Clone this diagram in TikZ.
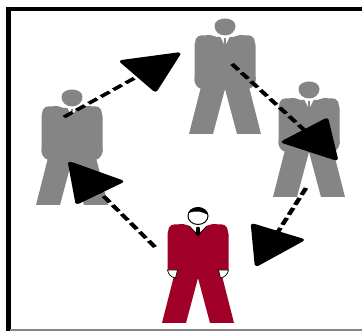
\documentclass[tikz,border=0pt]{standalone}
\usepackage{tikz}
\usetikzlibrary{arrows.meta}
\definecolor{szurke}{RGB}{133,133,133}
\definecolor{bordo}{RGB}{160,0,40}
\tikzset{
  keret/.style={line width=4.4pt},
  nyil/.style={line width=3.2pt,dash pattern=on 7.5pt off 3.4pt,-{Triangle[length=40pt,width=41pt,round]}},
  % legs and jacket of one figure, the head is at the origin
  pics/alak/.style={code={
    \fill[#1] (-22,52) -- (-36,107) -- (-12,107) -- (0,62) -- (12,107) -- (36,107) -- (22,52) -- cycle;
    \fill[#1] (-8.5,10) to[out=170,in=0] (-15,8) to[out=190,in=60] (-29,11.5) to[out=-110,in=90] (-30.5,18)
      -- (-30.5,54) -- (30.5,54) -- (30.5,18) to[out=90,in=-70] (29,11.5) to[out=120,in=-10] (15,8) to[out=180,in=10] (8.5,10) -- cycle;
  }},
  pics/szurkeember/.style={code={
    \pic {alak=szurke};
    \fill[szurke] (-30.5,50) -- (-30.5,54) to[out=-80,in=170] (-23,62) -- (-20,50) -- cycle;
    \fill[szurke] (30.5,50) -- (30.5,54) to[out=-100,in=10] (23,62) -- (20,50) -- cycle;
    \fill[szurke] (0,-2) to[out=180,in=90] (-10.5,-1) to[out=-90,in=180] (0,8.5) to[out=0,in=-90] (10.5,-1) to[out=90,in=0] (0,-8.5) to[out=180,in=90] (-10.5,-1);
    \fill[white] (-5,9) -- (-1,17) -- (-1.2,11) -- (1.2,11) -- (1,17) -- (5,9) -- cycle;
  }},
  pics/voroslember/.style={code={
    \pic {alak=bordo};
    \fill[white] (-9,9) -- (0,19) -- (9,9) -- cycle;
    \draw[black,line width=.7pt] (-9,10) -- (0,19) -- (9,10);
    \draw[black,fill=white,line width=.7pt] (-30.5,54) to[out=-80,in=170] (-22.5,62) -- (-20.5,54) -- cycle;
    \draw[black,fill=white,line width=.7pt] (30.5,54) to[out=-100,in=10] (22.5,62) -- (20.5,54) -- cycle;
    \fill[black] (-1.6,11) -- (1.6,11) -- (2.4,18) -- (0,20.5) -- (-2.4,18) -- cycle;
    \draw[black,fill=white,line width=1pt] (0,0) ellipse[x radius=10,y radius=8.5];
    \fill[black] (-9.5,-3) to[out=70,in=180] (0,-8.5) to[out=0,in=110] (10,-1) to[out=160,in=0] (1,-4.5) to[out=180,in=20] (-9.5,-3);
  }},
}
\begin{document}
\begin{tikzpicture}[x=1pt,y=-1pt]
  \useasboundingbox (0,0) rectangle (362,331);
  % frame
  \draw[keret] (362,9) -- (8.5,9) -- (8.5,331);
  \draw[szurke,line width=1.5pt] (10,330) -- (362,330);
  % people
  \pic (felso) at (225,27) {szurkeember};
  \pic (jobb) at (309,90) {szurkeember};
  \pic (bal) at (72,98) {szurkeember};
  \pic (also) at (198,216) {voroslember};
  % the arrows are wider than high
  \begin{scope}[transform canvas={xscale=1.45},x=0.6897pt]
    \coordinate (b1) at (64,117);
    \coordinate (b2) at (180,53);
    \coordinate (f1) at (232,64);
    \coordinate (f2) at (337,160);
    \coordinate (j1) at (306,188);
    \coordinate (j2) at (256,266);
    \coordinate (a1) at (155,247);
    \coordinate (a2) at (69,162);
    \draw[nyil] (b1) -- (b2);
    \draw[nyil] (f1) -- (f2);
    \draw[nyil] (j1) -- (j2);
    \draw[nyil] (a1) -- (a2);
  \end{scope}
\end{tikzpicture}
\end{document}
